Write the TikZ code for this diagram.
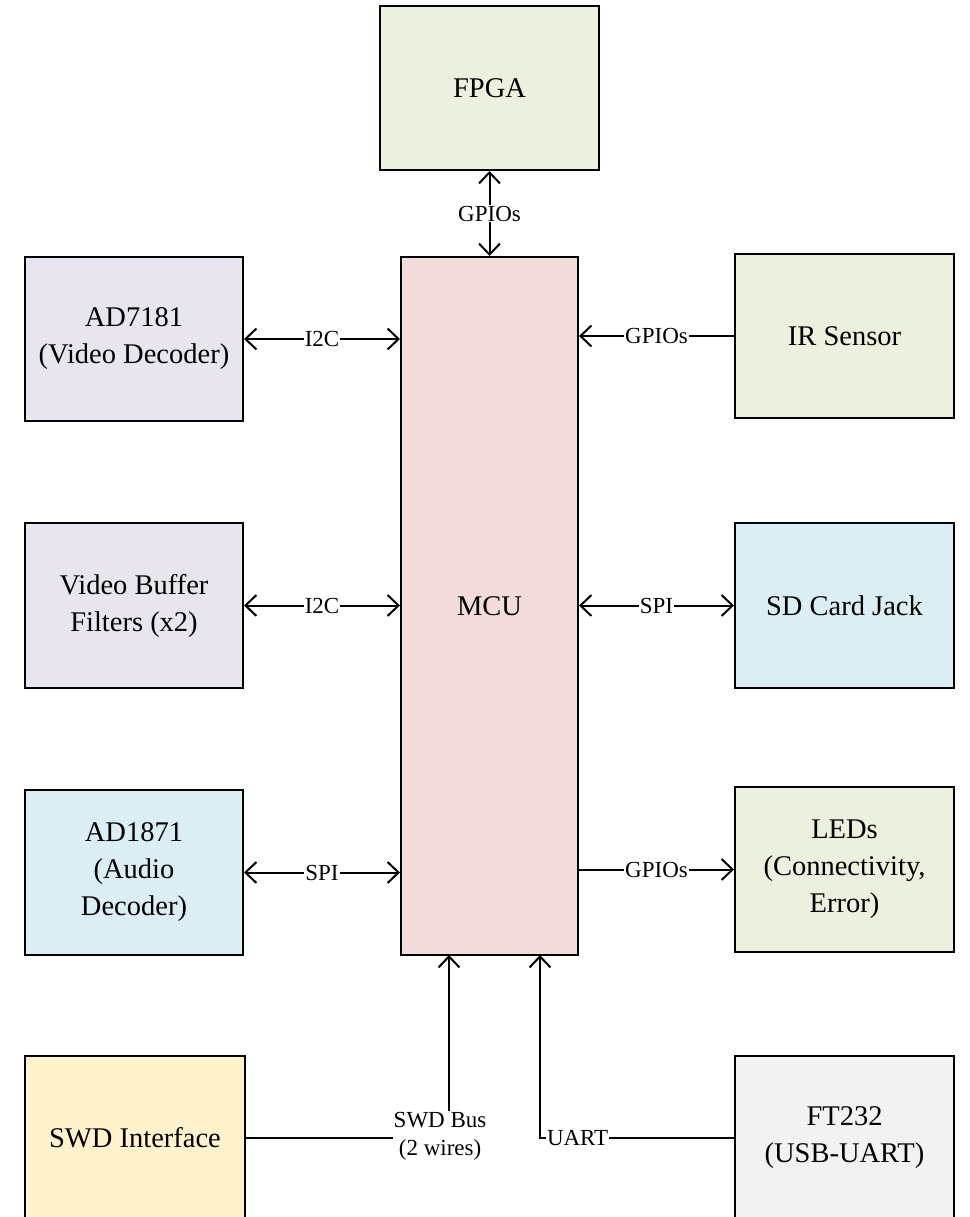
\documentclass[tikz,border=0pt]{standalone}
\usepackage{fontspec}
\setmainfont{Liberation Serif}
\usetikzlibrary{arrows.meta}
\definecolor{cgreen}{HTML}{EBF1DE}
\definecolor{cpurple}{HTML}{E9E5EE}
\definecolor{cpink}{HTML}{F2DCDB}
\definecolor{cblue}{HTML}{DBEEF3}
\definecolor{cyellow}{HTML}{FFF2CC}
\definecolor{cgray}{HTML}{F2F2F2}
\tikzset{bb/.tip={Straight Barb[length=11pt,width=21pt,line width=2pt]}}
\begin{document}
\begin{tikzpicture}[x=1pt,y=-1pt,
  blk/.style={draw=black, line width=2pt, minimum width=219pt, minimum height=164pt,
    align=center, inner sep=2pt, font=\fontsize{28.5}{37}\selectfont},
  lbl/.style={fill=white, inner sep=1pt, align=center, font=\fontsize{23}{28}\selectfont},
  conn/.style={line width=2pt, draw=black}
]
\useasboundingbox (0,0) rectangle (969,1217);
\clip (0,0) rectangle (969,1217);
\fill[white] (0,0) rectangle (969,1217);

% nodes
\node[blk, fill=cgreen] (fpga) at (489.5,88) {FPGA};
\node[blk, fill=cpink, minimum width=177pt, minimum height=698pt] (mcu) at (489.5,606) {MCU};
\node[blk, fill=cpurple, minimum width=218pt] (ad7181) at (134,339) {AD7181\\(Video Decoder)};
\node[blk, fill=cpurple, minimum width=218pt, minimum height=165pt] (vbuf) at (134,605.5) {Video Buffer\\Filters (x2)};
\node[blk, fill=cblue, minimum width=218pt, minimum height=165pt] (ad1871) at (134,872.5) {AD1871\\(Audio\\Decoder)};
\node[blk, fill=cgreen] (ir) at (844.5,336) {IR Sensor};
\node[blk, fill=cblue, minimum height=165pt] (sd) at (844.5,605.5) {SD Card Jack};
\node[blk, fill=cgreen, minimum height=165pt] (leds) at (844.5,869.5) {LEDs\\(Connectivity,\\Error)};
\node[blk, fill=cyellow, minimum width=220pt] (swd) at (135,1138) {SWD Interface};
\node[blk, fill=cgray] (ft) at (844.5,1138) {FT232\\(USB-UART)};

\coordinate (mcuS1) at (449,955);
\coordinate (mcuS2) at (540,955);

% connectors
\draw[conn, bb-bb] (fpga.south) -- node[lbl]{GPIOs} (mcu.north);
\draw[conn, bb-bb] (ad7181.east) -- node[lbl]{I2C} (mcu.west |- ad7181.east);
\draw[conn, bb-bb] (vbuf.east) -- node[lbl]{I2C} (mcu.west |- vbuf.east);
\draw[conn, bb-bb] (ad1871.east) -- node[lbl]{SPI} (mcu.west |- ad1871.east);
\draw[conn, -bb] (ir.west) -- node[lbl]{GPIOs} (mcu.east |- ir.west);
\draw[conn, bb-bb] (mcu.east |- sd.west) -- node[lbl]{SPI} (sd.west);
\draw[conn, -bb] (mcu.east |- leds.west) -- node[lbl]{GPIOs} (leds.west);
\draw[conn, -bb] (swd.east) -| node[lbl, pos=0.478, yshift=2pt]{SWD Bus\\(2 wires)} (mcuS1);
\draw[conn, -bb] (ft.west) -| node[lbl, pos=0.403]{UART} (mcuS2);
\end{tikzpicture}
\end{document}
